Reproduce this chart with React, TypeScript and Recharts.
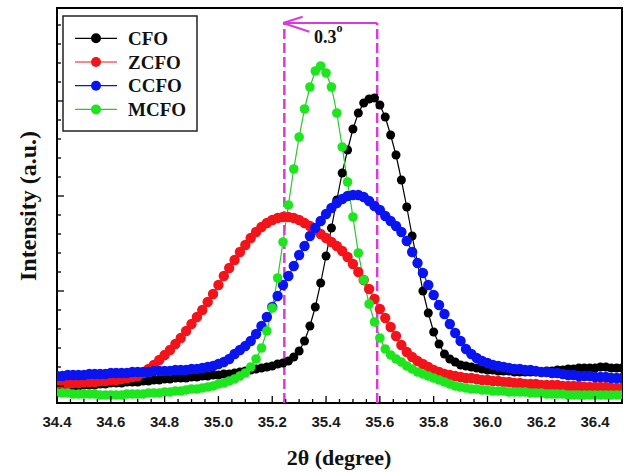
import React from 'react';
import { LineChart, Line, XAxis, YAxis, ReferenceLine, ReferenceArea } from 'recharts';

// 2θ sampling of the scans: 34.40 .. 36.50 in 0.02° steps
const START = 34.4;
const STEP = 0.02;

// intensities (a.u.), one row per 0.2°
const CFO = [
  16, 16, 17, 17, 17, 18, 18, 18, 19, 19, // 34.40
  20, 20, 20, 21, 21, 21, 22, 22, 23, 23, // 34.60
  24, 24, 25, 25, 25, 26, 26, 27, 27, 28, // 34.80
  28, 29, 29, 30, 31, 32, 33, 34, 35, 36, // 35.00
  37, 39, 40, 42, 46, 52, 62, 77, 96, 120, // 35.20
  147, 175, 203, 230, 253, 274, 290, 300, 304, 305, // 35.40
  298, 286, 268, 248, 223, 196, 167, 140, 112, 90, // 35.60
  71, 59, 49, 44, 41, 38, 37, 36, 35, 34, // 35.80
  33, 33, 32, 32, 32, 31, 31, 31, 31, 31, // 36.00
  31, 32, 32, 33, 33, 34, 34, 35, 35, 35, // 36.20
  35, 36, 36, 35, 35, 35, // 36.40
];

const ZCFO = [
  19, 19, 19, 20, 20, 21, 21, 21, 22, 22,
  23, 23, 24, 25, 26, 27, 30, 34, 38, 43,
  48, 53, 59, 65, 72, 79, 86, 93, 101, 109,
  118, 127, 135, 143, 151, 158, 165, 171, 176, 180,
  183, 185, 186, 186, 185, 183, 180, 177, 173, 169,
  165, 161, 157, 152, 146, 139, 131, 123, 114, 104,
  94, 85, 76, 67, 58, 51, 46, 42, 39, 36,
  33, 31, 29, 28, 27, 26, 25, 25, 24, 23,
  23, 22, 22, 21, 21, 20, 20, 19, 19, 19,
  18, 18, 18, 18, 17, 17, 17, 17, 16, 16,
  16, 16, 16, 15, 15, 15,
];

const CCFO = [
  27, 27, 28, 28, 28, 28, 29, 29, 29, 29,
  30, 30, 30, 30, 31, 31, 31, 31, 32, 32,
  32, 32, 33, 33, 33, 34, 34, 35, 36, 37,
  39, 41, 44, 49, 53, 57, 62, 69, 77, 86,
  96, 107, 118, 127, 137, 148, 157, 167, 175, 182,
  189, 195, 200, 204, 207, 208, 208, 206, 202, 197,
  193, 187, 182, 177, 171, 162, 151, 140, 130, 118,
  108, 98, 89, 79, 70, 62, 54, 49, 45, 42,
  40, 38, 37, 36, 35, 34, 34, 33, 33, 32,
  31, 31, 30, 30, 29, 28, 28, 27, 27, 27,
  26, 26, 26, 25, 25, 25,
];

const MCFO = [
  10, 10, 10, 9, 9, 9, 9, 9, 8, 8,
  8, 8, 8, 9, 9, 9, 9, 10, 10, 10,
  11, 11, 12, 12, 13, 14, 14, 15, 16, 17,
  19, 20, 22, 24, 27, 30, 36, 44, 55, 72,
  95, 125, 161, 198, 234, 266, 294, 316, 332, 337,
  330, 316, 290, 256, 221, 186, 150, 123, 99, 81,
  65, 54, 48, 44, 41, 37, 34, 31, 29, 27,
  25, 23, 21, 19, 17, 16, 15, 14, 14, 13,
  13, 12, 12, 12, 11, 11, 11, 11, 10, 10,
  10, 9, 9, 9, 9, 8, 8, 8, 8, 8,
  8, 8, 8, 8, 8, 8,
];

const SERIES = [
  { key: 'CFO', values: CFO, color: '#000000', line: '#000000', r: 4.5 },
  { key: 'ZCFO', values: ZCFO, color: '#f2141a', line: '#f2141a', r: 5.2 },
  { key: 'CCFO', values: CCFO, color: '#0a14f0', line: '#0a14f0', r: 5.2 },
  { key: 'MCFO', values: MCFO, color: '#1ee61e', line: '#2ac82a', r: 4.8 },
];

const X_LABELS = [34.4, 34.6, 34.8, 35.0, 35.2, 35.4, 35.6, 35.8, 36.0, 36.2, 36.4];
const X_MIN = 34.4;
const X_MAX = 36.5;
const Y_MAX = 395;
const Y_MAJOR = [17, 112, 207, 302];

// peak shift marker
const SHIFT_FROM = 35.245;
const SHIFT_TO = 35.59;
const ARROW_Y = 380;
const MAGENTA = '#d93bd9';

const X_TICKS = Array.from({ length: 43 }, (_, i) => Math.round((X_MIN + i * 0.05) * 100) / 100);
const Y_TICKS = Array.from({ length: 20 }, (_, i) => 17 + i * 19);

const data = CFO.map((_, i) => {
  const row: Record<string, number> = { x: Math.round((START + i * STEP) * 100) / 100 };
  SERIES.forEach((s) => {
    row[s.key] = s.values[i];
  });
  return row;
});

const SERIF = "'Liberation Serif', 'Times New Roman', serif";
const SANS = "'Liberation Sans', Arial, sans-serif";

const XTick = (props: any) => {
  const { x, y, payload } = props;
  const v = Number(payload.value);
  const major = X_LABELS.some((l) => Math.abs(l - v) < 1e-6);
  return (
    <g>
      <line x1={x} x2={x} y1={y} y2={y - (major ? 7 : 4)} stroke="#000" strokeWidth={1.3} />
      {major && (
        <text x={x} y={y + 24} textAnchor="middle" fontFamily={SANS} fontWeight="bold" fontSize={15} fill="#1a1a1a">
          {v.toFixed(1)}
        </text>
      )}
    </g>
  );
};

const YTick = (props: any) => {
  const { x, y, payload } = props;
  const major = Y_MAJOR.includes(payload.value);
  return <line x1={x} x2={x + (major ? 7 : 4)} y1={y} y2={y} stroke="#000" strokeWidth={1.3} />;
};

const Overlay = () => (
  <svg width={628} height={472} style={{ position: 'absolute', left: 0, top: 0, pointerEvents: 'none' }}>
    {/* legend */}
    <rect x={63} y={16} width={134} height={115} fill="#fff" stroke="#222" strokeWidth={1.5} />
    {SERIES.map((s, i) => {
      const cy = 38.3 + i * 23.7;
      return (
        <g key={s.key}>
          <line x1={75} x2={117} y1={cy} y2={cy} stroke={s.line} strokeWidth={1.2} />
          <circle cx={96} cy={cy} r={5} fill={s.color} />
          <text x={128} y={cy + 6.5} fontFamily={SERIF} fontWeight="bold" fontSize={19} fill="#111">
            {s.key}
          </text>
        </g>
      );
    })}
    {/* shift label */}
    <text x={314} y={43} fontFamily={SERIF} fontWeight="bold" fontSize={18} fill="#111">
      0.3
      <tspan dy={-11} fontSize={12}>o</tspan>
    </text>
    {/* axis titles */}
    <text x={339} y={465} textAnchor="middle" fontFamily={SERIF} fontWeight="bold" fontSize={22} fill="#111">
      2θ (degree)
    </text>
    <text
      x={36}
      y={206}
      textAnchor="middle"
      transform="rotate(-90, 36, 206)"
      fontFamily={SERIF}
      fontWeight="bold"
      fontSize={24}
      fill="#111"
    >
      Intensity (a.u.)
    </text>
  </svg>
);

export default function App() {
  return (
    <div style={{ position: 'absolute', left: 0, top: 0, width: 628, height: 472, background: '#fff' }}>
      <LineChart width={628} height={472} data={data} margin={{ top: 8, right: 6, left: 0, bottom: 0 }}>
        <XAxis
          dataKey="x"
          type="number"
          domain={[X_MIN, X_MAX]}
          allowDataOverflow
          ticks={X_TICKS}
          interval={0}
          height={69}
          tickSize={0}
          tickMargin={0}
          tickLine={false}
          axisLine={false}
          tick={XTick}
        />
        <YAxis
          type="number"
          domain={[0, Y_MAX]}
          allowDataOverflow
          ticks={Y_TICKS}
          interval={0}
          width={57}
          tickSize={0}
          tickMargin={0}
          tickLine={false}
          axisLine={false}
          tick={YTick}
        />
        {SERIES.map((s) => (
          <Line
            key={s.key}
            dataKey={s.key}
            type="linear"
            stroke={s.line}
            strokeWidth={1.2}
            dot={{ r: s.r, fill: s.color, stroke: 'none' }}
            activeDot={false}
            isAnimationActive={false}
          />
        ))}
        <ReferenceLine
          segment={[{ x: SHIFT_FROM, y: 0 }, { x: SHIFT_FROM, y: ARROW_Y }]}
          stroke={MAGENTA}
          strokeWidth={2.5}
          strokeDasharray="10 4"
        />
        <ReferenceLine
          segment={[{ x: SHIFT_TO, y: 0 }, { x: SHIFT_TO, y: ARROW_Y }]}
          stroke={MAGENTA}
          strokeWidth={2.5}
          strokeDasharray="10 4"
        />
        <ReferenceLine segment={[{ x: SHIFT_FROM, y: ARROW_Y }, { x: SHIFT_TO, y: ARROW_Y }]} stroke={MAGENTA} strokeWidth={2} />
        <ReferenceLine segment={[{ x: 35.24, y: ARROW_Y }, { x: 35.313, y: 386.3 }]} stroke={MAGENTA} strokeWidth={2} />
        <ReferenceLine segment={[{ x: 35.24, y: ARROW_Y }, { x: 35.338, y: 371.3 }]} stroke={MAGENTA} strokeWidth={2} />
        <ReferenceArea x1={X_MIN} x2={X_MAX} y1={0} y2={Y_MAX} fill="none" stroke="#000" strokeWidth={2} />
      </LineChart>
      <Overlay />
    </div>
  );
}
